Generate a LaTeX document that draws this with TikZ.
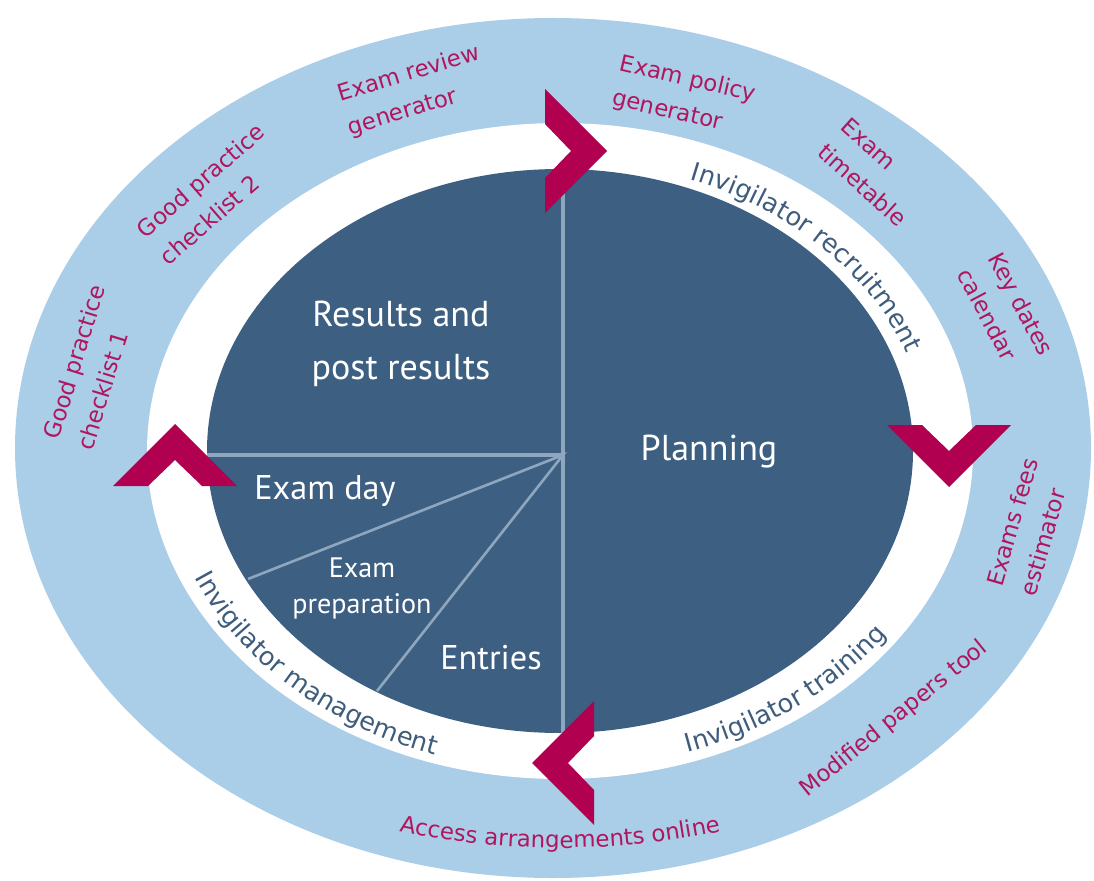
\documentclass[tikz,border=0pt]{standalone}
\usepackage{fontspec}
\setmainfont{DejaVu Sans}
\newfontfamily\stagefont{PT Sans}
\usepackage{tikz}
\usetikzlibrary{decorations.text}
\definecolor{ringblue}{RGB}{170,205,232}
\definecolor{stageblue}{RGB}{61,95,130}
\definecolor{chevred}{RGB}{176,0,79}
\definecolor{toolred}{RGB}{176,22,94}
\definecolor{inkblue}{RGB}{62,92,124}
\definecolor{divgray}{RGB}{142,166,190}
\tikzset{stage/.style = {text=white, align=center,
                         font=\stagefont\fontsize{20.5}{30}\selectfont},
         substage/.style = {stage, font=\stagefont\fontsize{19.5}{24}\selectfont},
         tool/.style = {text=toolred, align=left,
                        font=\fontsize{13}{20}\selectfont},
         chevron/.style = {fill=chevred},
         splitline/.style = {draw=divgray, line width=2.2pt},
         ringtext/.style = {decorate,
                            decoration={text along path, text color=inkblue, text align=center,
                                        text={|\fontsize{14.5}{18}\selectfont|#1}}},
         rimtext/.style = {decorate,
                           decoration={text along path, text color=toolred, text align=center,
                                       text={|\fontsize{13}{18}\selectfont|#1}}}}

\begin{document}
\begin{tikzpicture}[x=0.02cm, y=-0.02cm]
    \useasboundingbox (0,0) rectangle (1094,881);
    \fill [ringblue] (553,448) ellipse [x radius=538, y radius=430];
    \fill [white] (560,451) ellipse [x radius=413, y radius=328];
    \fill [stageblue] (560,451) ellipse [x radius=353, y radius=282];

    \coordinate (c) at (560,451);
    \coordinate (hub) at (563,455);
    \coordinate (top) at (563,169);
    \coordinate (bottom) at (563,733);
    \coordinate (west) at (207,455);
    \coordinate (prepw) at (248,579);
    \coordinate (prepe) at (377,691);
    \draw [splitline] (top) -- (bottom);
    \draw [splitline] (west) -- (hub);
    \draw [splitline, line width=1.5pt] (prepw) -- (hub) -- (prepe);

    \foreach \x/\y/\r in {545/151/0, 949/425/-90, 594/763/180, 175/486/90}
      \fill [chevron, shift={(\x,\y)}, rotate=\r]
        (0,-62) -- (62,0) -- (0,62) -- (0,27) -- (26,0) -- (0,-27) -- cycle;

    \node [stage] (results) at (401,344) {Results and\\post results};
    \node [stage] (planning) at (709,452) {Planning};
    \node [substage] (examday) at (325,491) {Exam day};
    \node [substage] (entries) at (491,658) {Entries};
    \node [stage, font=\stagefont\fontsize{16}{20.5}\selectfont] (prep) at (362,588) {Exam\\preparation};

    \node [tool, rotate=73] (checklist1) at (91,367) {Good practice\\checklist 1};
    \node [tool, rotate=41] (checklist2) at (212,194) {Good practice\\checklist 2};
    \node [tool, rotate=17] (review) at (414,91) {Exam review\\generator};
    \node [tool, rotate=-13] (policy) at (684,97) {Exam policy\\generator};
    \node [tool, rotate=-42] (timetable) at (874,172) {Exam\\timetable};
    \node [tool, rotate=-62] (keydates) at (1006,312) {Key dates\\calendar};
    \node [tool, rotate=74] (fees) at (1029,527) {Exams fees\\estimator};
    \node [tool, rotate=39] (modified) at (894,719) {Modified papers tool};

    % text round the rings
    \path [ringtext={Invigilator recruitment}] (c) ++(-78:368 and 290)
      arc [start angle=-78, end angle=-9, x radius=368, y radius=290];
    \path [ringtext={Invigilator management}] (c) ++(-186:398 and 320)
      arc [start angle=-186, end angle=-266, x radius=398, y radius=320];
    \path [ringtext={Invigilator training}] (c) ++(-270:400 and 318)
      arc [start angle=-270, end angle=-347, x radius=400, y radius=318];
    \path [rimtext={Access arrangements online}] (c) ++(-230:564 and 397)
      arc [start angle=-230, end angle=-310, x radius=564, y radius=397];
\end{tikzpicture}
\end{document}
